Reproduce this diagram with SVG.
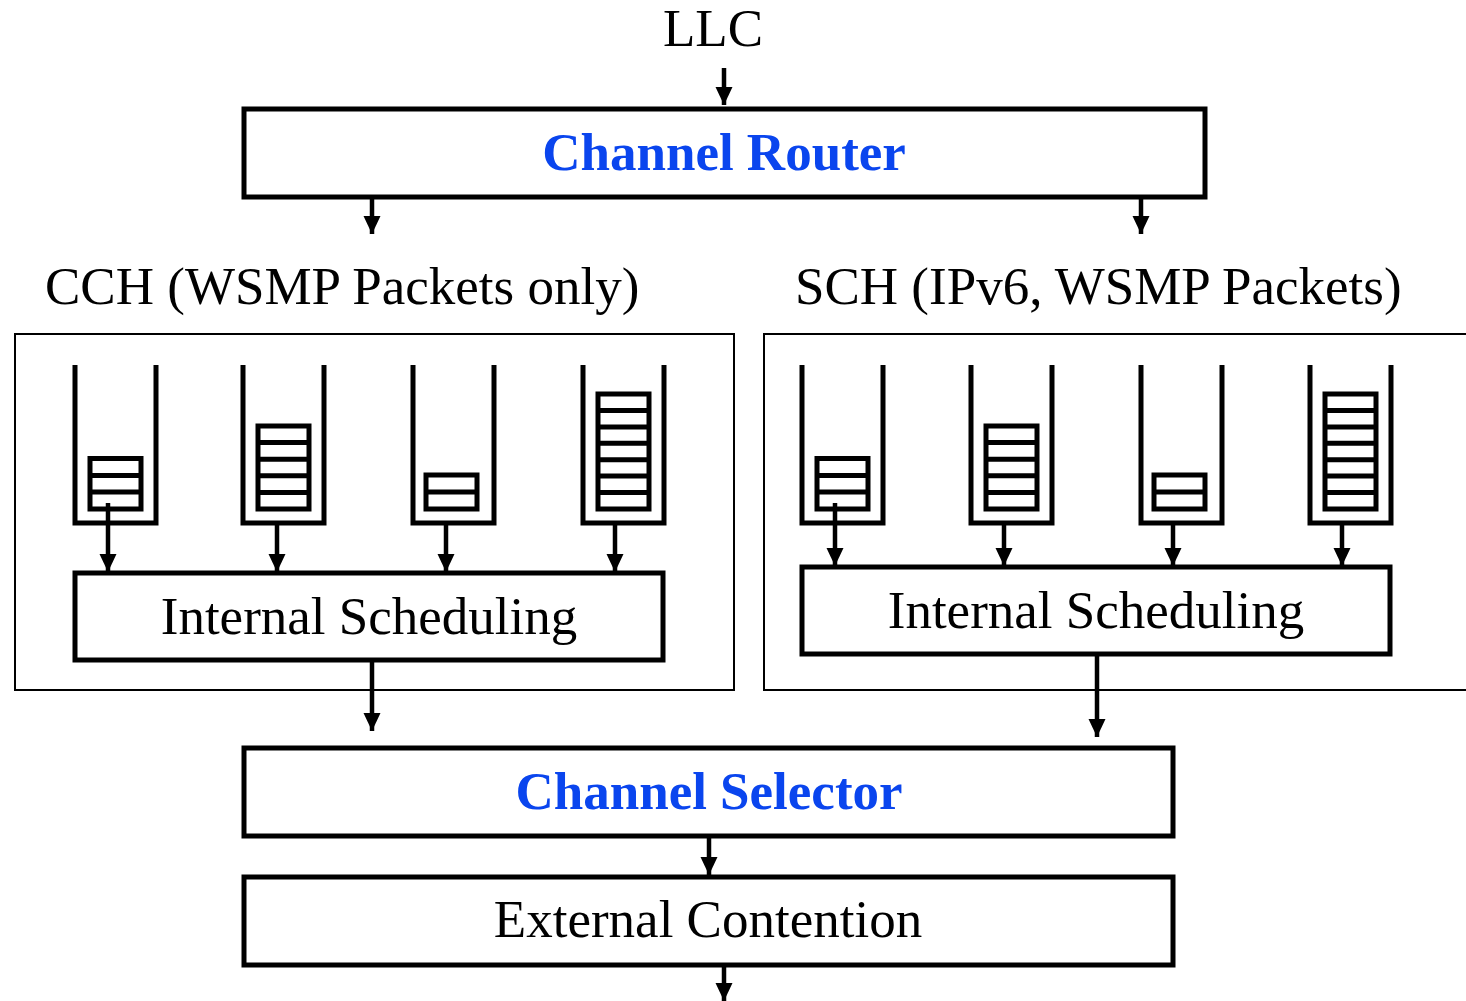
<svg xmlns="http://www.w3.org/2000/svg" width="1466" height="1001" viewBox="0 0 1466 1001">
<style>
.t{font-family:"Liberation Serif","Times New Roman",serif;font-size:53px;fill:#000}
.b{font-family:"Liberation Serif","Times New Roman",serif;font-size:53px;font-weight:bold;fill:#0a45ee}
.box{fill:#fff;stroke:#000;stroke-width:5}
.outer{fill:none;stroke:#000;stroke-width:2}
.q{fill:none;stroke:#000;stroke-width:5}
.p{fill:#fff;stroke:#000;stroke-width:5}
.a{fill:none;stroke:#000;stroke-width:4.5;marker-end:url(#ah)}
</style>
<defs>
<marker id="ah" markerUnits="userSpaceOnUse" markerWidth="18" markerHeight="18" viewBox="0 0 18 18" refX="18" refY="9" orient="auto">
<path d="M0,0.5 L18,9 L0,17.5 Z" fill="#000"/>
</marker>
<g id="q1"><path class="q" d="M0,0 V158 H81 V0"/><rect class="p" x="15" y="93.5" width="51" height="50.5"/><path class="q" d="M15,110.5 H66 M15,127 H66"/></g>
<g id="q2"><path class="q" d="M0,0 V158 H81 V0"/><rect class="p" x="15" y="61" width="51" height="83"/><path class="q" d="M15,77.6 H66 M15,94.2 H66 M15,110.8 H66 M15,127.4 H66"/></g>
<g id="q3"><path class="q" d="M0,0 V158 H81 V0"/><rect class="p" x="13" y="110" width="51" height="34"/><path class="q" d="M13,127 H64"/></g>
<g id="q4"><path class="q" d="M0,0 V158 H81 V0"/><rect class="p" x="15" y="29" width="51" height="115"/><path class="q" d="M15,45.4 H66 M15,61.9 H66 M15,78.3 H66 M15,94.7 H66 M15,111.1 H66 M15,127.6 H66"/></g>
</defs>
<rect width="1466" height="1001" fill="#fff"/>
<g id="llc"><text class="t" x="713" y="46" text-anchor="middle">LLC</text></g>
<g id="router"><rect class="box" x="244" y="109" width="961" height="88"/><text class="b" x="724" y="170" text-anchor="middle">Channel Router</text></g>
<g id="cch">
<text class="t" x="45" y="304">CCH (WSMP Packets only)</text>
<rect class="outer" x="15" y="334" width="719" height="356"/>
<use href="#q1" x="75" y="365"/>
<use href="#q2" x="243" y="365"/>
<use href="#q3" x="413" y="365"/>
<use href="#q4" x="583" y="365"/>
</g>
<g id="cch-sched"><rect class="box" x="75" y="573" width="588" height="87"/><text class="t" x="369" y="634" text-anchor="middle">Internal Scheduling</text></g>
<g id="sch">
<text class="t" x="795" y="304">SCH (IPv6, WSMP Packets)</text>
<rect class="outer" x="764" y="334" width="710" height="356"/>
<use href="#q1" x="802" y="365"/>
<use href="#q2" x="971" y="365"/>
<use href="#q3" x="1141" y="365"/>
<use href="#q4" x="1310" y="365"/>
</g>
<g id="sch-sched"><rect class="box" x="802" y="567" width="588" height="87"/><text class="t" x="1096" y="628" text-anchor="middle">Internal Scheduling</text></g>
<g id="selector"><rect class="box" x="244" y="748" width="929" height="88"/><text class="b" x="709" y="809" text-anchor="middle">Channel Selector</text></g>
<g id="external"><rect class="box" x="244" y="877" width="929" height="88"/><text class="t" x="708" y="937" text-anchor="middle">External Contention</text></g>
<g id="connectors">
<path class="a" d="M724,68 V105"/>
<path class="a" d="M372,197 V234"/>
<path class="a" d="M1141,197 V234"/>
<path class="a" d="M108,503 V572"/>
<path class="a" d="M277,523 V572"/>
<path class="a" d="M446,523 V572"/>
<path class="a" d="M615,523 V572"/>
<path class="a" d="M835,503 V566"/>
<path class="a" d="M1004,523 V566"/>
<path class="a" d="M1173,523 V566"/>
<path class="a" d="M1342,523 V566"/>
<path class="a" d="M372,660 V731"/>
<path class="a" d="M1097,654 V737"/>
<path class="a" d="M709,836 V875"/>
<path class="a" d="M724,965 V1001"/>
</g>
</svg>
